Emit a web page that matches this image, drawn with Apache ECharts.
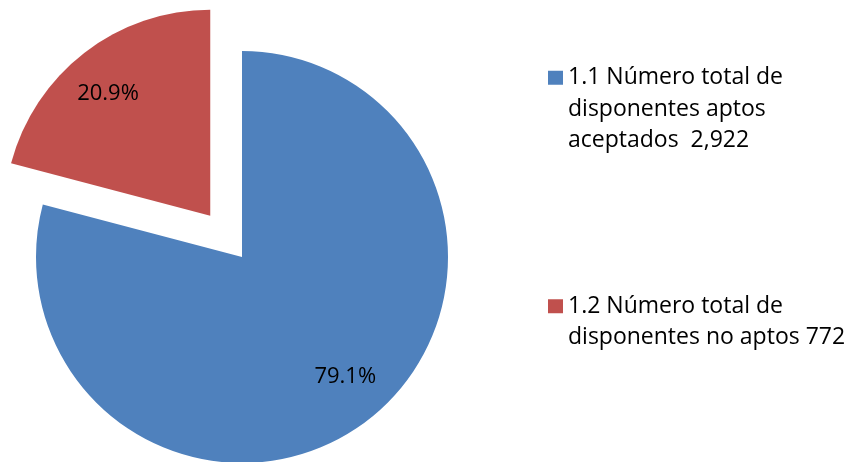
<!DOCTYPE html>
<html>
<head>
<meta charset="utf-8">
<script src="https://cdn.jsdelivr.net/npm/echarts@6/dist/echarts.min.js"></script>
<style>
html,body{margin:0;padding:0;background:#fff;}
#c{width:853px;height:462px;}
</style>
</head>
<body>
<div id="c"></div>
<script>
const categories = ['1.1 Número total de\ndisponentes aptos\naceptados  2,922', '1.2 Número total de\ndisponentes no aptos 772'];
const values = [2922, 772];
const colors = ['#4F81BD', '#C0504D'];
const explodedIndex = 1;

const FONT = 'Open Sans';
const FS = 23;
const LH = 31.5;
const labelShift = [[5, -8], [-4, 5]];

const chart = echarts.init(document.getElementById('c'));

const mainData = categories.map((n, i) => ({
  name: n, value: values[i], selected: i === explodedIndex,
  itemStyle: { color: colors[i] }
}));
const labelData = categories.map((n, i) => ({
  name: n, value: values[i], selected: i === explodedIndex,
  itemStyle: { color: 'rgba(0,0,0,0)' }
}));

function legendFor(i, top) {
  return {
    data: [categories[i]],
    orient: 'vertical',
    left: 548,
    top: top,
    padding: 0,
    icon: 'rect',
    itemWidth: 15,
    itemHeight: 14,
    itemGap: 0,
    selectedMode: false,
    formatter: name => '\n'.repeat(name.split('\n').length - 1) + name,
    textStyle: {
      fontFamily: FONT, fontSize: FS, color: '#000', lineHeight: LH
    }
  };
}

chart.setOption({
  animation: false,
  color: colors,
  legend: [
    legendFor(0, -1),
    legendFor(1, 259)
  ],
  series: [
    {
      type: 'pie',
      center: [242, 257],
      radius: [0, 206],
      startAngle: 90,
      clockwise: true,
      selectedMode: 'single',
      selectedOffset: 52,
      label: { show: false },
      labelLine: { show: false },
      emphasis: { disabled: true },
      silent: true,
      data: mainData
    },
    {
      type: 'pie',
      center: [242, 257],
      radius: [0, 316],
      startAngle: 90,
      clockwise: true,
      selectedMode: 'single',
      selectedOffset: 52,
      percentPrecision: 1,
      legendHoverLink: false,
      label: {
        show: true, position: 'inside',
        fontFamily: FONT, fontSize: 22, color: '#000',
        formatter: p => p.percent.toFixed(1) + '%'
      },
      labelLayout: p => ({ dx: labelShift[p.dataIndex][0], dy: labelShift[p.dataIndex][1] }),
      labelLine: { show: false },
      emphasis: { disabled: true },
      silent: true,
      data: labelData
    }
  ]
});
</script>
</body>
</html>
